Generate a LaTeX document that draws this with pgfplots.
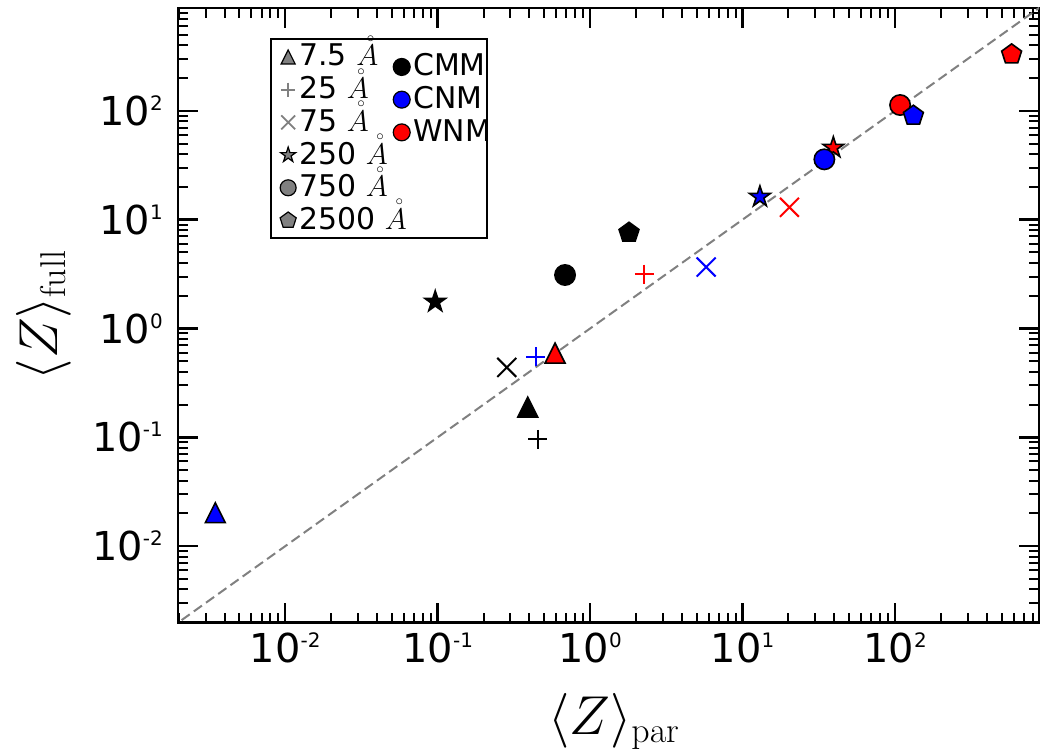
\RequirePackage{fix-cm}
\documentclass[border=0pt]{standalone}
\usepackage[no-math]{fontspec}
\setmainfont{DejaVu Sans}
\usepackage{pgfplots}
\pgfplotsset{compat=1.18}
\DeclareMathSizes{55}{55}{36}{28}
\DeclareMathSizes{30}{30}{21}{15}

\newcommand{\tl}[1]{10\raisebox{15bp}{\fontsize{20}{20}\selectfont #1}}
\newcommand{\ang}{\ensuremath{\mathop{\rule{0pt}{0.72em}A}\limits^{\mkern6mu\scriptscriptstyle\circ}}}

\pgfdeclareplotmark{mtri}{%
  \pgfpathmoveto{\pgfqpoint{0pt}{\pgfplotmarksize}}%
  \pgfpathlineto{\pgfqpoint{-\pgfplotmarksize}{-\pgfplotmarksize}}%
  \pgfpathlineto{\pgfqpoint{\pgfplotmarksize}{-\pgfplotmarksize}}%
  \pgfpathclose\pgfusepathqfillstroke}
\pgfdeclareplotmark{mpent}{%
  \pgfpathmoveto{\pgfpointpolar{90}{\pgfplotmarksize}}%
  \pgfpathlineto{\pgfpointpolar{162}{\pgfplotmarksize}}%
  \pgfpathlineto{\pgfpointpolar{234}{\pgfplotmarksize}}%
  \pgfpathlineto{\pgfpointpolar{306}{\pgfplotmarksize}}%
  \pgfpathlineto{\pgfpointpolar{18}{\pgfplotmarksize}}%
  \pgfpathclose\pgfusepathqfillstroke}
\pgfdeclareplotmark{mstar}{%
  \pgfpathmoveto{\pgfpointpolar{90}{\pgfplotmarksize}}%
  \pgfpathlineto{\pgfpointpolar{126}{0.382\pgfplotmarksize}}%
  \pgfpathlineto{\pgfpointpolar{162}{\pgfplotmarksize}}%
  \pgfpathlineto{\pgfpointpolar{198}{0.382\pgfplotmarksize}}%
  \pgfpathlineto{\pgfpointpolar{234}{\pgfplotmarksize}}%
  \pgfpathlineto{\pgfpointpolar{270}{0.382\pgfplotmarksize}}%
  \pgfpathlineto{\pgfpointpolar{306}{\pgfplotmarksize}}%
  \pgfpathlineto{\pgfpointpolar{342}{0.382\pgfplotmarksize}}%
  \pgfpathlineto{\pgfpointpolar{18}{\pgfplotmarksize}}%
  \pgfpathlineto{\pgfpointpolar{54}{0.382\pgfplotmarksize}}%
  \pgfpathclose\pgfusepathqfillstroke}
\pgfdeclareplotmark{mx}{%
  \pgfpathmoveto{\pgfqpoint{-\pgfplotmarksize}{-\pgfplotmarksize}}%
  \pgfpathlineto{\pgfqpoint{\pgfplotmarksize}{\pgfplotmarksize}}%
  \pgfpathmoveto{\pgfqpoint{-\pgfplotmarksize}{\pgfplotmarksize}}%
  \pgfpathlineto{\pgfqpoint{\pgfplotmarksize}{-\pgfplotmarksize}}%
  \pgfusepathqstroke}
\pgfdeclareplotmark{mplus}{%
  \pgfpathmoveto{\pgfqpoint{-\pgfplotmarksize}{0pt}}%
  \pgfpathlineto{\pgfqpoint{\pgfplotmarksize}{0pt}}%
  \pgfpathmoveto{\pgfqpoint{0pt}{\pgfplotmarksize}}%
  \pgfpathlineto{\pgfqpoint{0pt}{-\pgfplotmarksize}}%
  \pgfusepathqstroke}

\pgfplotsset{
  fillm/.style={only marks, forget plot, mark options={solid, fill=#1, draw=black, line width=1.6bp}},
  linem/.style={only marks, forget plot, mark options={solid, draw=#1, line width=2bp}},
  legf/.style={only marks, mark options={solid, fill=#1, draw=black, line width=1.2bp}},
  legl/.style={only marks, mark options={solid, draw=#1, line width=1.8bp}},
  rleg/.style={legend image code/.code={%
      \path[draw=none,fill=none] (0cm,-0.3cm) rectangle (0.6cm,0.3cm);
      \draw[mark repeat=2,mark phase=2,##1,overlay,yshift=-10bp] plot coordinates {(0cm,0cm) (0.3cm,0cm) (0.6cm,0cm)};}},
}

\begin{document}
\begin{tikzpicture}
\begin{axis}[name=ax, scale only axis, width=861bp, height=614.7bp,
  xmode=log, ymode=log,
  xmin=1.98e-3, xmax=880, ymin=1.98e-3, ymax=880,
  xtick={1e-2,1e-1,1,10,100},
  xticklabels={\tl{-2},\tl{-1},\tl{0},\tl{1},\tl{2}},
  ytick={1e-2,1e-1,1,10,100},
  yticklabels={\tl{-2},\tl{-1},\tl{0},\tl{1},\tl{2}},
  minor xtick={2e-3,3e-3,4e-3,5e-3,6e-3,7e-3,8e-3,9e-3,2e-2,3e-2,4e-2,5e-2,6e-2,7e-2,8e-2,9e-2,0.2,0.3,0.4,0.5,0.6,0.7,0.8,0.9,2,3,4,5,6,7,8,9,20,30,40,50,60,70,80,90,200,300,400,500,600,700,800},
  minor ytick={2e-3,3e-3,4e-3,5e-3,6e-3,7e-3,8e-3,9e-3,2e-2,3e-2,4e-2,5e-2,6e-2,7e-2,8e-2,9e-2,0.2,0.3,0.4,0.5,0.6,0.7,0.8,0.9,2,3,4,5,6,7,8,9,20,30,40,50,60,70,80,90,200,300,400,500,600,700,800},
  tick align=inside,
  major tick length=20bp, minor tick length=10bp,
  major tick style={line width=2.5bp, black},
  minor tick style={line width=2bp, black},
  axis line style={line width=2.5bp},
  ticklabel style={font=\fontsize{40}{44}\selectfont},
  xticklabel style={inner sep=0pt, yshift=-10bp},
  yticklabel style={inner sep=0pt, xshift=-15bp},
  xlabel={$\langle Z\rangle_{\mathrm{par}}$},
  ylabel={$\langle Z\rangle_{\mathrm{full}}$},
  label style={font=\fontsize{55}{60}\selectfont},
  xlabel style={at={(axis description cs:0.506,-0.182)}, anchor=base},
  ylabel style={at={(axis description cs:-0.1405,0.5)}, anchor=base},
  legend columns=2, legend cell align=left,
  legend style={at={(0.107,0.951)}, anchor=north west, draw=black, line width=2bp,
    font=\fontsize{30}{32}\selectfont, inner xsep=9bp, inner ysep=1.5bp, row sep=0pt,
    nodes={inner xsep=3bp, inner ysep=1.35bp, text height=24bp, text depth=6bp},
    /tikz/every even column/.append style={column sep=5bp}},
]
% legend
\addlegendimage{legf=gray, mark=mtri, mark size=7}
\addlegendentry{\makebox[86bp][l]{7.5 \ang}}
\addlegendimage{rleg, legf=black, mark=*, mark size=8.5}
\addlegendentry{\makebox[62bp][l]{\raisebox{-10bp}{CMM}}}
\addlegendimage{legl=gray, mark=mplus, mark size=7}
\addlegendentry{\makebox[86bp][l]{25 \ang}}
\addlegendimage{rleg, legf=blue, mark=*, mark size=8.5}
\addlegendentry{\makebox[62bp][l]{\raisebox{-10bp}{CNM}}}
\addlegendimage{legl=gray, mark=mx, mark size=7}
\addlegendentry{\makebox[86bp][l]{75 \ang}}
\addlegendimage{rleg, legf=red, mark=*, mark size=8.5}
\addlegendentry{\makebox[62bp][l]{\raisebox{-10bp}{WNM}}}
\addlegendimage{legf=gray, mark=mstar, mark size=8}
\addlegendentry{\makebox[86bp][l]{250 \ang}}
\addlegendimage{empty legend}
\addlegendentry{}
\addlegendimage{legf=gray, mark=*, mark size=8}
\addlegendentry{\makebox[86bp][l]{750 \ang}}
\addlegendimage{empty legend}
\addlegendentry{}
\addlegendimage{legf=gray, mark=mpent, mark size=8.5}
\addlegendentry{\makebox[86bp][l]{2500 \ang}}

% 7.5 A
\addplot[fillm=black, mark=mtri, mark size=10] coordinates {(0.390,0.1895)};
\addplot[fillm=blue,  mark=mtri, mark size=10] coordinates {(0.00348,0.0203)};
\addplot[fillm=red,   mark=mtri, mark size=10] coordinates {(0.589,0.594)};
% 25 A
\addplot[linem=black, mark=mplus, mark size=9.5] coordinates {(0.454,0.0957)};
\addplot[linem=blue,  mark=mplus, mark size=9.5] coordinates {(0.44,0.55)};
\addplot[linem=red,   mark=mplus, mark size=9.5] coordinates {(2.27,3.16)};
% 75 A
\addplot[linem=black, mark=mx, mark size=9.5] coordinates {(0.284,0.439)};
\addplot[linem=blue,  mark=mx, mark size=9.5] coordinates {(5.77,3.67)};
\addplot[linem=red,   mark=mx, mark size=9.5] coordinates {(20.3,12.97)};
% 250 A
\addplot[fillm=black, mark=mstar, mark size=11] coordinates {(0.0964,1.76)};
\addplot[fillm=blue,  mark=mstar, mark size=11] coordinates {(13.0,16.2)};
\addplot[fillm=red,   mark=mstar, mark size=11] coordinates {(39.4,45.8)};
% 750 A
\addplot[fillm=black, mark=*, mark size=10.2] coordinates {(0.685,3.10)};
\addplot[fillm=blue,  mark=*, mark size=10.2] coordinates {(34.4,35.8)};
\addplot[fillm=red,   mark=*, mark size=10.2] coordinates {(108,113)};
% 2500 A
\addplot[fillm=black, mark=mpent, mark size=10.5] coordinates {(1.80,7.58)};
\addplot[fillm=blue,  mark=mpent, mark size=10.5] coordinates {(132,90.2)};
\addplot[fillm=red,   mark=mpent, mark size=10.5] coordinates {(582,330)};
% one-to-one line
\addplot[forget plot, no markers, color=gray, line width=2bp, dash pattern=on 10bp off 5bp] coordinates {(1e-3,1e-3) (1e3,1e3)};
\end{axis}
\pgfresetboundingbox
\path (ax.south west) ++(-178bp,-127.3bp) rectangle ++(1050bp,750bp);
\end{tikzpicture}
\end{document}
